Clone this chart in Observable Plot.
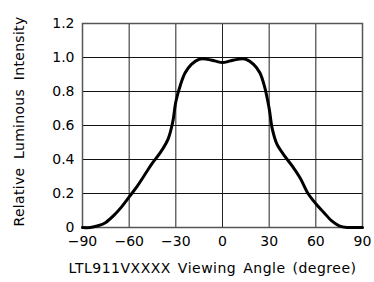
<!DOCTYPE html>
<html><head><meta charset="utf-8">
<script src="https://cdn.jsdelivr.net/npm/d3@7"></script>
<script src="https://cdn.jsdelivr.net/npm/@observablehq/plot@0.6"></script>
<style>
body{margin:0;background:#fff}
.xtitle text{letter-spacing:0.5px;word-spacing:2px}
.ytitle text{letter-spacing:0.3px;word-spacing:4px}
</style>
</head><body><div id="chart"></div>
<script>
const angles = [-90,-85,-80,-75,-70,-65,-60,-55,-50,-45,-40,-35,-32,-30,-27,-24,-20,-15,-10,-5,0,5,10,15,20,24,27,30,32,35,40,45,50,55,60,65,70,75,80,85,90];
const intensity = [0,0,0.01,0.03,0.07,0.12,0.18,0.24,0.31,0.38,0.44,0.52,0.62,0.74,0.84,0.91,0.96,0.99,0.99,0.98,0.97,0.98,0.99,0.99,0.96,0.91,0.83,0.70,0.58,0.49,0.42,0.36,0.29,0.20,0.14,0.09,0.04,0.01,0,0,0];
const xTicks = [-90,-60,-30,0,30,60,90];
const yTicks = [0,0.2,0.4,0.6,0.8,1.0,1.2];
const yTickLabels = ["0","0.2","0.4","0.6","0.8","1.0","1.2"];
const xTitle = "LTL911VXXXX Viewing Angle (degree)";
const yTitle = "Relative Luminous Intensity";
const data = angles.map((a,i)=>({a, v:intensity[i]}));
const font = "'DejaVu Sans', sans-serif";
const chart = Plot.plot({
  width: 374, height: 282,
  marginTop: 23, marginBottom: 55, marginLeft: 82, marginRight: 12,
  style: {fontFamily: font, fontSize: "14px", color: "#000", background: "#fff"},
  x: {domain: [-90, 90], ticks: xTicks, tickFormat: d => d < 0 ? "\u2212" + (-d) : String(d)},
  y: {domain: [0, 1.2], ticks: yTicks},
  marks: [
    Plot.gridX(xTicks, {stroke: "#222", strokeOpacity: 1, strokeWidth: 1}),
    Plot.gridY(yTicks, {stroke: "#111", strokeOpacity: 1, strokeWidth: 1}),
    Plot.frame({stroke: "#555", strokeWidth: 1.5}),
    Plot.axisX(xTicks, {tickSize: 0, tickPadding: 9, label: null, fontSize: 14}),
    Plot.axisY(yTicks, {tickSize: 0, tickPadding: 8, label: null, fontSize: 14, tickFormat: d => yTickLabels[yTicks.indexOf(d)]}),
    Plot.line(data, {x: "a", y: "v", curve: "catmull-rom", stroke: "#000", strokeWidth: 3}),
    Plot.text([xTitle], {frameAnchor: "bottom", dx: -10, dy: 45, fontSize: 14, text: d => d, className: "xtitle"}),
    Plot.text([yTitle], {frameAnchor: "left", textAnchor: "middle", dx: -63, dy: -4, rotate: -90, fontSize: 14, text: d => d, className: "ytitle"})
  ]
});
document.getElementById("chart").appendChild(chart);
</script></body></html>
